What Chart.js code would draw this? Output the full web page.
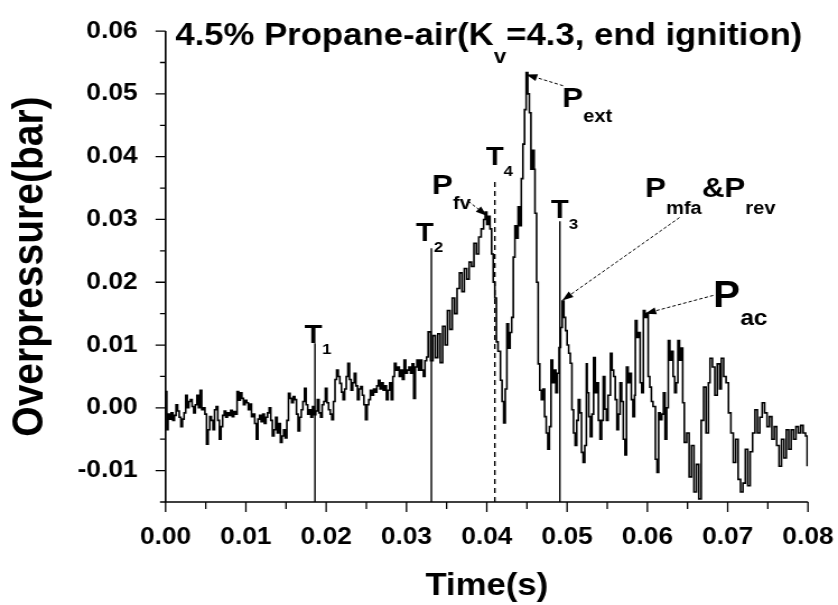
<!DOCTYPE html>
<html>
<head>
<meta charset="utf-8">
<script src="https://cdn.jsdelivr.net/npm/chart.js@4.4.0/dist/chart.umd.min.js"></script>
<style>
  html, body { margin: 0; padding: 0; background: #fff; }
</style>
</head>
<body>
<!-- the original figure is stretched sideways, so the canvas is drawn narrow and widened by css -->
<canvas id="chart" width="748" height="605" style="width:838px;height:605px"></canvas>
<script>
// pressure trace: time in ms, overpressure in bar
const timeMs = [
  0.0, 0.15, 0.3, 0.5, 0.7, 0.9, 1.1, 1.3, 1.5, 1.7, 1.9, 2.1, 2.3, 2.5, 2.7, 2.9, 3.1, 3.3, 3.5, 3.7,
  3.9, 4.1, 4.3, 4.5, 4.7, 4.9, 5.1, 5.3, 5.5, 5.7, 5.9, 6.1, 6.3, 6.5, 6.7, 6.9, 7.1, 7.3, 7.5, 7.7,
  7.9, 8.1, 8.3, 8.5, 8.7, 8.9, 9.1, 9.3, 9.5, 9.7, 9.9, 10.1, 10.3, 10.5, 10.7, 10.9, 11.1, 11.3, 11.5, 11.7,
  11.9, 12.1, 12.3, 12.5, 12.7, 12.9, 13.1, 13.3, 13.5, 13.7, 13.9, 14.1, 14.3, 14.5, 14.7, 14.9, 15.1, 15.3, 15.5, 15.7,
  15.9, 16.1, 16.3, 16.5, 16.7, 16.9, 17.1, 17.3, 17.5, 17.7, 17.9, 18.1, 18.3, 18.5, 18.7, 18.9, 19.1, 19.3, 19.5, 19.7,
  19.9, 20.1, 20.3, 20.5, 20.7, 20.9, 21.1, 21.3, 21.5, 21.7, 21.9, 22.1, 22.3, 22.5, 22.7, 22.9, 23.1, 23.3, 23.5, 23.7,
  23.9, 24.1, 24.3, 24.5, 24.7, 24.9, 25.1, 25.3, 25.5, 25.7, 25.9, 26.1, 26.3, 26.5, 26.7, 26.9, 27.1, 27.3, 27.5, 27.7,
  27.9, 28.1, 28.3, 28.5, 28.7, 28.9, 29.1, 29.3, 29.5, 29.7, 29.9, 30.1, 30.3, 30.5, 30.7, 30.9, 31.1, 31.3, 31.5, 31.7,
  31.9, 32.1, 32.3, 32.5, 32.7, 33.0, 33.3, 33.6, 33.9, 34.2, 34.5, 34.8, 35.1, 35.4, 35.7, 36.0, 36.3, 36.6, 36.9, 37.2,
  37.5, 37.8, 38.1, 38.4, 38.7, 39.0, 39.3, 39.6, 39.8, 40.0, 40.2, 40.4, 40.6, 40.8, 41.0, 41.2, 41.4, 41.7, 41.9, 42.1,
  42.3, 42.5, 42.7, 42.9, 43.1, 43.3, 43.5, 43.7, 43.9, 44.1, 44.3, 44.5, 44.7, 44.9, 45.1, 45.3, 45.5, 45.7, 45.9, 46.0,
  46.2, 46.4, 46.6, 46.8, 47.0, 47.2, 47.4, 47.6, 47.8, 48.0, 48.2, 48.4, 48.6, 48.8, 49.0, 49.2, 49.4, 49.6, 49.8, 50.0,
  50.2, 50.4, 50.6, 50.8, 51.0, 51.2, 51.4, 51.6, 51.8, 52.0, 52.2, 52.4, 52.5, 52.7, 52.9, 53.1, 53.3, 53.5, 53.7, 53.9,
  54.1, 54.3, 54.5, 54.7, 54.9, 55.1, 55.4, 55.6, 55.8, 56.0, 56.2, 56.4, 56.6, 56.8, 57.0, 57.2, 57.4, 57.6, 57.8, 58.0,
  58.2, 58.4, 58.5, 58.7, 58.9, 59.1, 59.3, 59.5, 59.7, 59.9, 60.1, 60.3, 60.5, 60.7, 61.0, 61.2, 61.4, 61.6, 61.8, 62.0,
  62.2, 62.4, 62.6, 62.8, 63.0, 63.2, 63.4, 63.6, 63.8, 64.0, 64.2, 64.4, 64.6, 64.9, 65.2, 65.5, 65.8, 66.1, 66.4, 66.7,
  67.0, 67.3, 67.6, 67.8, 68.1, 68.4, 68.7, 69.0, 69.2, 69.5, 69.8, 70.1, 70.4, 70.7, 71.0, 71.3, 71.6, 71.9, 72.2, 72.5,
  72.8, 73.1, 73.4, 73.7, 74.0, 74.3, 74.6, 74.9, 75.2, 75.5, 75.8, 76.1, 76.4, 76.7, 77.0, 77.3, 77.6, 77.9, 78.2, 78.5,
  78.8, 79.1, 79.4, 79.7, 79.9
];
const overpressure = [
  0.0026, -0.0035, -0.0010, -0.0018, -0.0008, -0.0020, -0.0012, 0.0005, -0.0005, -0.0015, -0.0030, -0.0018, -0.0008, 0.0020, 0.0000, 0.0010, 0.0013, 0.0002, -0.0008, 0.0005,
  0.0020, 0.0000, 0.0028, -0.0003, 0.0000, -0.0010, -0.0058, -0.0035, -0.0014, -0.0020, -0.0035, -0.0003, 0.0002, -0.0020, -0.0050, -0.0030, -0.0012, -0.0005, -0.0015, -0.0008,
  -0.0012, -0.0004, -0.0014, -0.0006, -0.0010, 0.0026, 0.0012, 0.0024, 0.0015, 0.0005, 0.0012, 0.0008, -0.0003, 0.0006, -0.0014, -0.0010, -0.0025, -0.0050, -0.0018, -0.0012,
  -0.0022, -0.0010, -0.0025, -0.0015, -0.0008, 0.0000, -0.0020, -0.0045, -0.0035, -0.0015, -0.0040, -0.0025, -0.0055, -0.0045, -0.0035, -0.0048, -0.0020, 0.0023, 0.0015, 0.0008,
  0.0018, 0.0013, -0.0010, -0.0037, -0.0015, -0.0003, 0.0010, 0.0031, 0.0005, -0.0010, -0.0003, -0.0015, 0.0002, -0.0011, -0.0005, 0.0013, -0.0008, -0.0015, 0.0005, 0.0010,
  0.0031, 0.0008, -0.0003, -0.0010, -0.0019, 0.0010, 0.0045, 0.0060, 0.0050, 0.0039, 0.0025, 0.0013, 0.0030, 0.0050, 0.0071, 0.0045, 0.0028, 0.0040, 0.0055, 0.0035,
  0.0013, 0.0030, 0.0034, 0.0020, 0.0005, -0.0019, 0.0005, 0.0013, 0.0028, 0.0020, 0.0030, 0.0025, 0.0035, 0.0044, 0.0030, 0.0040, 0.0028, 0.0035, 0.0013, 0.0028,
  0.0040, 0.0013, 0.0050, 0.0071, 0.0060, 0.0065, 0.0050, 0.0060, 0.0045, 0.0076, 0.0055, 0.0060, 0.0065, 0.0055, 0.0070, 0.0015, 0.0065, 0.0076, 0.0060, 0.0076,
  0.0060, 0.0050, 0.0075, 0.0081, 0.0121, 0.0075, 0.0115, 0.0080, 0.0118, 0.0072, 0.0130, 0.0100, 0.0155, 0.0125, 0.0175, 0.0150, 0.0190, 0.0215, 0.0185, 0.0222,
  0.0205, 0.0232, 0.0225, 0.0262, 0.0245, 0.0272, 0.0285, 0.0300, 0.0312, 0.0292, 0.0305, 0.0285, 0.0245, 0.0200, 0.0175, 0.0105, 0.0090, 0.0044, 0.0010, -0.0024,
  0.0030, 0.0134, 0.0095, 0.0120, 0.0144, 0.0240, 0.0290, 0.0270, 0.0320, 0.0290, 0.0365, 0.0420, 0.0475, 0.0534, 0.0500, 0.0470, 0.0380, 0.0410, 0.0380, 0.0310,
  0.0200, 0.0070, 0.0028, 0.0013, 0.0030, -0.0014, -0.0040, -0.0066, -0.0030, 0.0076, 0.0040, 0.0060, 0.0024, 0.0055, 0.0096, 0.0128, 0.0170, 0.0144, 0.0123, 0.0100,
  0.0087, 0.0071, -0.0003, -0.0040, -0.0060, -0.0020, 0.0013, -0.0008, -0.0071, -0.0087, -0.0060, 0.0070, 0.0024, -0.0014, -0.0046, -0.0010, 0.0080, 0.0024, 0.0040, -0.0020,
  -0.0050, -0.0020, 0.0050, -0.0002, -0.0020, 0.0020, 0.0087, 0.0060, 0.0050, 0.0013, -0.0035, -0.0010, 0.0040, 0.0010, -0.0050, -0.0075, 0.0065, 0.0040, 0.0055, 0.0013,
  -0.0014, 0.0020, 0.0139, 0.0112, 0.0120, 0.0040, 0.0024, 0.0155, 0.0144, 0.0150, 0.0050, 0.0033, 0.0010, 0.0002, -0.0082, -0.0103, -0.0008, -0.0019, -0.0010, 0.0024,
  -0.0050, 0.0000, 0.0107, 0.0076, 0.0090, 0.0050, 0.0024, 0.0040, 0.0107, 0.0076, 0.0095, 0.0008, -0.0055, -0.0040, -0.0110, -0.0060, -0.0134, -0.0090, -0.0145, -0.0020,
  0.0033, -0.0040, 0.0040, 0.0079, 0.0065, 0.0020, 0.0070, 0.0030, 0.0079, 0.0050, 0.0040, -0.0008, -0.0040, -0.0087, -0.0050, -0.0114, -0.0134, -0.0120, -0.0066, -0.0124,
  -0.0070, -0.0040, -0.0003, -0.0040, -0.0015, 0.0008, -0.0008, -0.0030, -0.0014, -0.0050, -0.0030, -0.0060, -0.0093, -0.0050, -0.0080, -0.0035, -0.0066, -0.0035, -0.0050, -0.0030,
  -0.0040, -0.0028, -0.0040, -0.0045, -0.0093
];

// T1..T4 marker lines (time in s, top of the line in bar)
const markerNames = ['1', '2', '4', '3'];
const markerTimes = [0.0186, 0.0331, 0.0410, 0.0491];
const markerTops = [0.0103, 0.0254, 0.0365, 0.0297];

// axis limits and tick step
const xMin = 0, xMax = 0.08;
const yMin = -0.015, yMax = 0.06;
const tickStep = 0.005;

function isMajor(v) { return Math.abs(Math.round(v / tickStep)) % 2 === 0; }

const FONT = 'Liberation Sans, Arial, sans-serif';

// label placement (data units) and styling for the annotations
const markerLabels = [
  { x: 0.0184, y: 0.0103 },
  { x: 0.0323, y: 0.0265 },
  { x: 0.0410, y: 0.0387 },
  { x: 0.0491, y: 0.0302 }
];
const peakLabels = [
  { at: [0.03318, 0.0341], parts: [['P', 28, 0], ['fv', 18, 15]], from: [0.0377, 0.0329], to: [0.0400, 0.0306] },
  { at: [0.04938, 0.0479], parts: [['P', 28, 0], ['ext', 18, 15]], from: [0.0495, 0.0513], to: [0.0449, 0.0531] },
  { at: [0.0597, 0.0336], parts: [['P', 28, 0], ['mfa', 18, 17], ['&P', 28, 0], ['rev', 18, 17]], from: [0.0640, 0.0303], to: [0.0494, 0.0171] },
  { at: [0.0682, 0.0160], parts: [['P', 36, 0], ['ac', 22, 18]], from: [0.0682, 0.0179], to: [0.0597, 0.0150] }
];
const titleParts = [['4.5% Propane-air(K', 31, 0], ['v', 20, 18], ['=4.3, end ignition)', 31, 0]];
const titleAt = [0.0012, 0.0578];

function drawParts(ctx, x0, y0, parts) {
  let x = x0;
  parts.forEach(([txt, size, dy]) => {
    ctx.font = 'bold ' + size + 'px ' + FONT;
    ctx.fillText(txt, x, y0 + dy);
    x += ctx.measureText(txt).width;
  });
}

function arrow(ctx, x1, y1, x2, y2) {
  ctx.save();
  ctx.lineWidth = 1;
  ctx.setLineDash([3, 2]);
  ctx.beginPath();
  ctx.moveTo(x1, y1);
  ctx.lineTo(x2, y2);
  ctx.stroke();
  ctx.setLineDash([]);
  const a = Math.atan2(y2 - y1, x2 - x1);
  const L = 10, W = 3.5;
  ctx.beginPath();
  ctx.moveTo(x2, y2);
  ctx.lineTo(x2 - L * Math.cos(a) + W * Math.sin(a), y2 - L * Math.sin(a) - W * Math.cos(a));
  ctx.lineTo(x2 - L * Math.cos(a) - W * Math.sin(a), y2 - L * Math.sin(a) + W * Math.cos(a));
  ctx.closePath();
  ctx.fill();
  ctx.restore();
}

const annotations = {
  id: 'annotations',
  afterDraw(chart) {
    const { ctx, chartArea: a, scales: { x, y } } = chart;
    ctx.save();
    ctx.fillStyle = '#000';
    ctx.strokeStyle = '#000';

    // axes lines and ticks
    ctx.lineWidth = 1.6;
    ctx.beginPath();
    ctx.moveTo(a.left, a.top);
    ctx.lineTo(a.left, a.bottom);
    ctx.lineTo(a.right, a.bottom);
    ctx.stroke();
    ctx.lineWidth = 1.3;
    ctx.beginPath();
    x.ticks.forEach(t => {
      const px = x.getPixelForValue(t.value);
      ctx.moveTo(px, a.bottom);
      ctx.lineTo(px, a.bottom + (isMajor(t.value) ? 10 : 7));
    });
    y.ticks.forEach(t => {
      const py = y.getPixelForValue(t.value);
      ctx.moveTo(a.left, py);
      ctx.lineTo(a.left - (isMajor(t.value) ? 9 : 5), py);
    });
    ctx.stroke();

    // chart title inside the plot
    ctx.textAlign = 'left';
    ctx.textBaseline = 'alphabetic';
    drawParts(ctx, x.getPixelForValue(titleAt[0]), y.getPixelForValue(titleAt[1]), titleParts);

    // T labels
    markerLabels.forEach((m, i) => {
      ctx.font = 'bold 26px ' + FONT;
      const w = ctx.measureText('T').width;
      const px = x.getPixelForValue(m.x) - w / 2;
      const py = y.getPixelForValue(m.y);
      drawParts(ctx, px, py, [['T', 26, 0], [markerNames[i], 15, 11]]);
    });

    // P labels with arrows
    peakLabels.forEach(p => {
      drawParts(ctx, x.getPixelForValue(p.at[0]), y.getPixelForValue(p.at[1]), p.parts);
      arrow(ctx, x.getPixelForValue(p.from[0]), y.getPixelForValue(p.from[1]),
        x.getPixelForValue(p.to[0]), y.getPixelForValue(p.to[1]));
    });
    ctx.restore();
  }
};

const traceData = timeMs.map((t, i) => ({ x: t / 1000, y: overpressure[i] }));

const markerSets = markerTimes.map((t, i) => ({
  data: [{ x: t, y: yMin }, { x: t, y: markerTops[i] }],
  borderColor: '#000',
  borderWidth: 1.4,
  borderDash: markerNames[i] === '4' ? [5, 4] : [],
  pointRadius: 0
}));

Chart.defaults.color = '#000';
Chart.defaults.font.family = FONT;

new Chart(document.getElementById('chart'), {
  type: 'line',
  data: {
    datasets: [{
      data: traceData,
      borderColor: '#000',
      borderWidth: 1.6,
      stepped: true,
      pointRadius: 0
    }].concat(markerSets)
  },
  options: {
    responsive: false,
    devicePixelRatio: 1,
    animation: false,
    layout: { padding: { top: 29, right: 26.8, bottom: 0, left: 0 } },
    plugins: { legend: { display: false }, tooltip: { enabled: false } },
    scales: {
      x: {
        type: 'linear',
        min: xMin,
        max: xMax,
        grid: { display: false },
        border: { display: false },
        ticks: {
          stepSize: tickStep,
          autoSkip: false,
          maxRotation: 0,
          padding: 13,
          font: { size: 23.5, weight: 'bold' },
          callback: v => isMajor(v) ? v.toFixed(2) : ''
        },
        title: {
          display: true,
          text: 'Time(s)',
          font: { size: 31, weight: 'bold' },
          padding: { top: 0, bottom: 0 }
        },
        afterFit: s => { s.height = 103; s.paddingLeft = 0; s.paddingRight = 0; }
      },
      y: {
        min: yMin,
        max: yMax,
        grid: { display: false },
        border: { display: false },
        ticks: {
          stepSize: tickStep,
          autoSkip: false,
          padding: 17,
          font: { size: 23.5, weight: 'bold' },
          callback: v => isMajor(v) ? v.toFixed(2) : ''
        },
        title: {
          display: true,
          text: 'Overpressure(bar)',
          font: { size: 39, weight: 'bold' },
          padding: { top: 4, bottom: 0 }
        },
        afterFit: s => { s.width = 147.8; }
      }
    }
  },
  plugins: [annotations]
});
</script>
</body>
</html>
